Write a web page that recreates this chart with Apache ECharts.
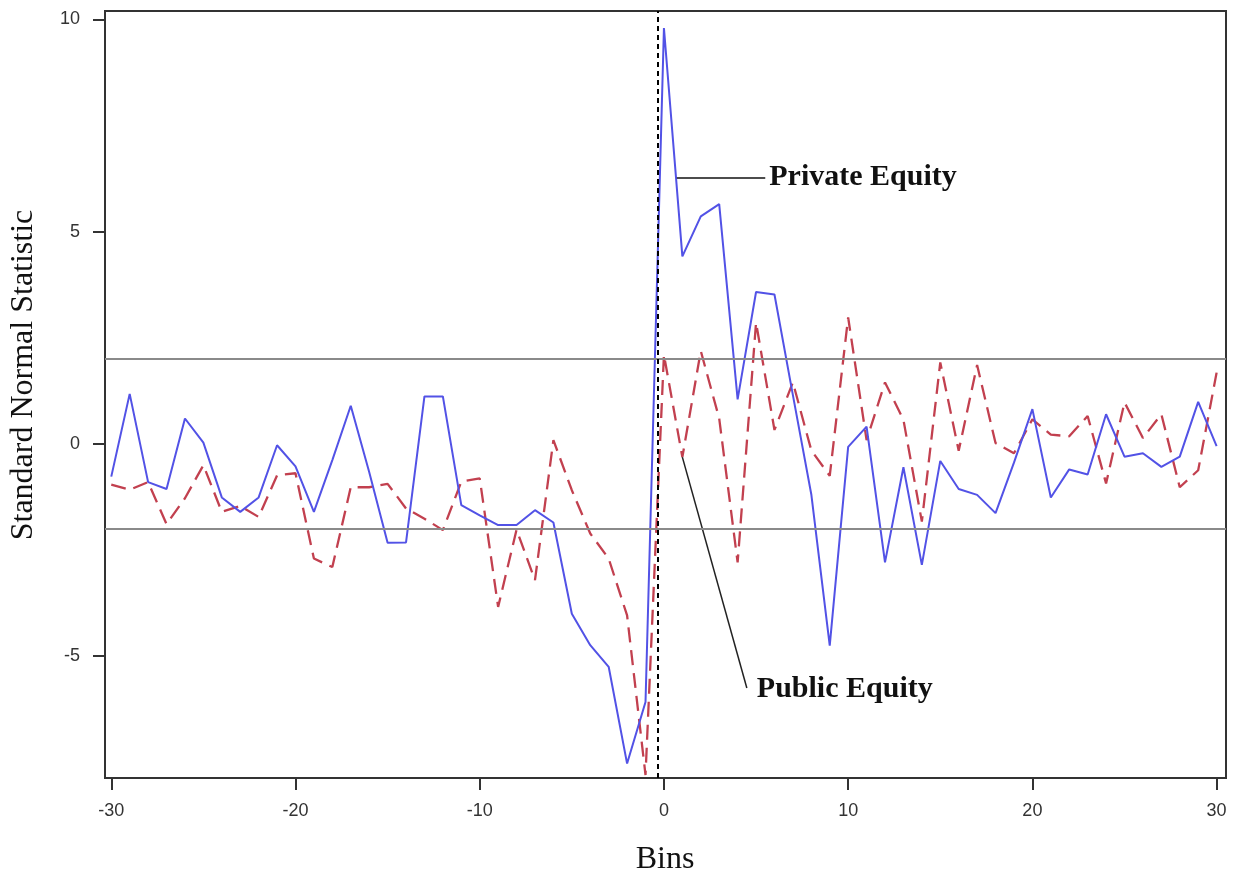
<!DOCTYPE html>
<html>
<head>
<meta charset="utf-8">
<script src="https://cdn.jsdelivr.net/npm/echarts@6/dist/echarts.min.js"></script>
<style>
html,body{margin:0;padding:0;background:#fff;}
#chart{width:1240px;height:879px;}
</style>
</head>
<body>
<div id="chart"></div>
<script>
// Bins -30..30
const bins = [];
for (let k = -30; k <= 30; k++) bins.push(k);

const privateEquity = [
  -0.77, 1.18, -0.9, -1.06, 0.6, 0.03, -1.26, -1.6, -1.26, -0.03,
  -0.53, -1.6, -0.38, 0.9, -0.66, -2.33, -2.32, 1.12, 1.12, -1.44,
  -1.68, -1.91, -1.91, -1.56, -1.85, -4.0, -4.74, -5.25, -7.53, -6.08,
  9.8, 4.42, 5.36, 5.65, 1.05, 3.58, 3.52, 1.15, -1.19, -4.75,
  -0.07, 0.41, -2.79, -0.55, -2.85, -0.4, -1.06, -1.2, -1.63, -0.44,
  0.82, -1.26, -0.6, -0.72, 0.7, -0.3, -0.22, -0.54, -0.3, 0.99,
  -0.05
];

const publicEquity = [
  -0.96, -1.08, -0.9, -1.89, -1.28, -0.5, -1.6, -1.46, -1.72, -0.74,
  -0.69, -2.7, -2.9, -1.02, -1.02, -0.94, -1.52, -1.76, -2.03, -0.89,
  -0.81, -3.84, -2.02, -3.21, 0.09, -1.09, -2.11, -2.7, -4.04, -7.8,
  2.1, -0.31, 2.19, 0.6, -2.79, 2.86, 0.33, 1.45, -0.15, -0.75,
  2.98, 0.09, 1.45, 0.57, -1.83, 1.92, -0.16, 1.86, 0.02, -0.22,
  0.58, 0.22, 0.18, 0.66, -0.93, 0.98, 0.14, 0.7, -1.02, -0.62,
  1.68
];

const xTicks = [-30, -20, -10, 0, 10, 20, 30];
const yTicks = [-5, 0, 5, 10];
const refLevels = [-2, 2];
const eventLine = -0.33;
const privateLabel = 'Private Equity';
const publicLabel = 'Public Equity';
const privateLeader = [[0.7, 6.28], [5.5, 6.28]];
const publicLeader = [[1.0, -0.31], [4.5, -5.75]];

const pe = bins.map((b, i) => [b, privateEquity[i]]);
const pu = bins.map((b, i) => [b, publicEquity[i]]);

const chart = echarts.init(document.getElementById('chart'), null, {renderer: 'canvas'});
const axisColor = '#333';
const option = {
  animation: false,
  backgroundColor: '#fff',
  grid: {left: 105, right: 14, top: 11, bottom: 101, show: true, borderColor: axisColor, borderWidth: 2, backgroundColor: 'transparent'},
  xAxis: {
    type: 'value', min: -30.34, max: 30.51,
    axisLine: {show: true, onZero: false, lineStyle: {color: axisColor, width: 2}},
    splitLine: {show: false},
    axisTick: {show: true, length: 12, inside: false, customValues: xTicks, lineStyle: {color: axisColor, width: 2}},
    axisLabel: {customValues: xTicks, color: '#333', fontFamily: 'Liberation Sans', fontSize: 18, margin: 24}
  },
  yAxis: {
    type: 'value', min: -7.87, max: 10.2,
    axisLine: {show: true, onZero: false, lineStyle: {color: axisColor, width: 2}},
    splitLine: {show: false},
    axisTick: {show: true, length: 12, customValues: yTicks, lineStyle: {color: axisColor, width: 2}},
    axisLabel: {customValues: yTicks, color: '#333', fontFamily: 'Liberation Sans', fontSize: 18, margin: 25}
  },
  series: [
    {
      name: 'Public Equity', type: 'line', data: pu, symbol: 'none',
      lineStyle: {color: '#c2404f', width: 2.3, type: [15, 8]},
      z: 2,
      markLine: {
        silent: true, symbol: 'none', label: {show: false},
        data: [
          [{coord: publicLeader[0]}, {coord: publicLeader[1]}]
        ],
        lineStyle: {color: '#222', width: 1.5, type: 'solid'}
      }
    },
    {
      name: 'Private Equity', type: 'line', data: pe, symbol: 'none',
      lineStyle: {color: '#5252e6', width: 2},
      z: 3,
      markLine: {
        silent: true, symbol: 'none', label: {show: false},
        data: [
          {yAxis: refLevels[0], lineStyle: {color: '#8a8a8a', width: 2, type: 'solid'}},
          {yAxis: refLevels[1], lineStyle: {color: '#8a8a8a', width: 2, type: 'solid'}},
          {xAxis: eventLine, lineStyle: {color: '#000', width: 2, type: [5, 4]}},
          [{coord: privateLeader[0], lineStyle: {color: '#111', width: 1.5, type: 'solid'}}, {coord: privateLeader[1]}]
        ]
      }
    }
  ]
};
chart.setOption(option);

const p1 = chart.convertToPixel({gridIndex: 0}, privateLeader[1]);
const p2 = chart.convertToPixel({gridIndex: 0}, publicLeader[1]);
chart.setOption({
  graphic: [
    {type: 'text', x: p1[0] + 4, y: p1[1], style: {text: privateLabel, fill: '#111', font: 'bold 30px "Liberation Serif"', verticalAlign: 'middle'}},
    {type: 'text', x: p2[0] + 10, y: p2[1] + 1, style: {text: publicLabel, fill: '#111', font: 'bold 30px "Liberation Serif"', verticalAlign: 'middle'}},
    {type: 'text', x: 665, y: 860, style: {text: 'Bins', fill: '#111', font: '32px "Liberation Serif"', align: 'center', verticalAlign: 'middle'}},
    {type: 'text', rotation: Math.PI / 2, x: 24, y: 375, style: {text: 'Standard Normal Statistic', fill: '#111', font: '32px "Liberation Serif"', align: 'center', verticalAlign: 'middle'}}
  ]
});
</script>
</body>
</html>
